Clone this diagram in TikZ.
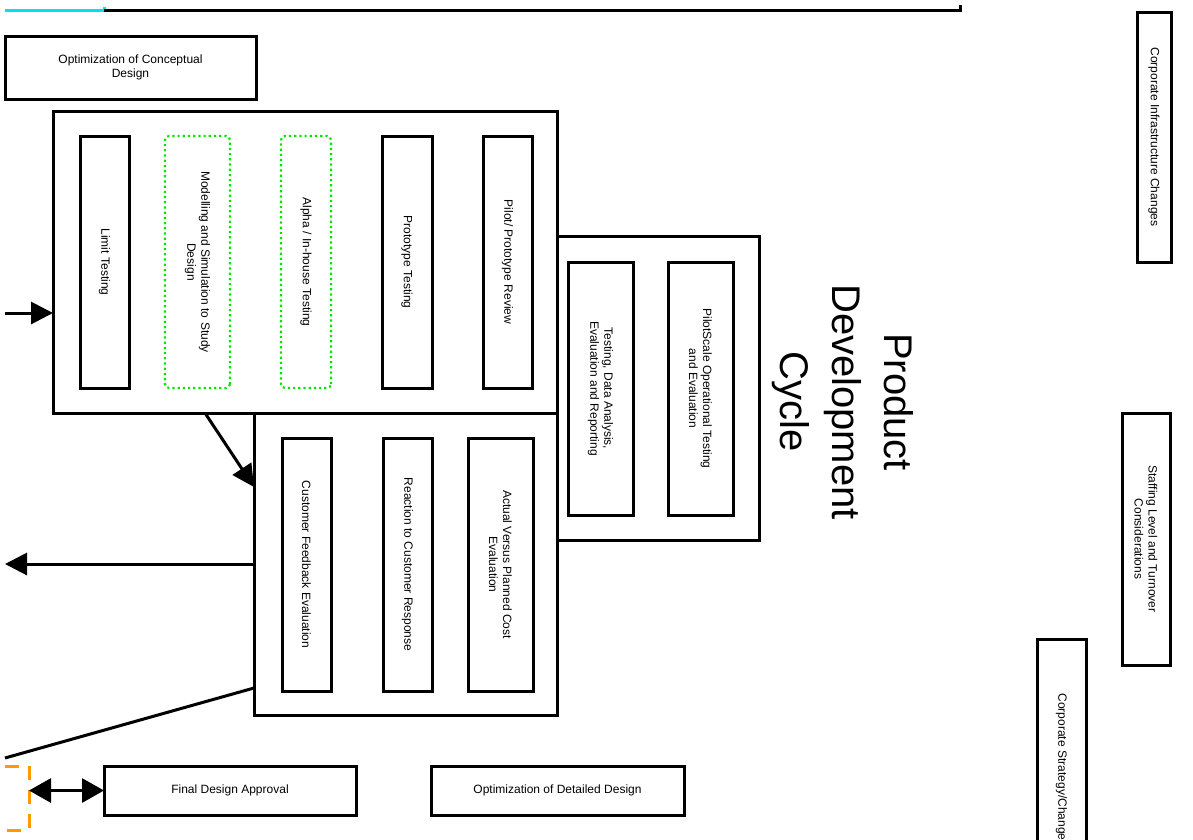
\documentclass[tikz,border=0pt]{standalone}
\usepackage{fontspec}
\setmainfont{Liberation Sans}
\usetikzlibrary{arrows.meta,calc,positioning}
\definecolor{simgreen}{RGB}{0,230,0}
\definecolor{linkcyan}{RGB}{0,225,240}
\definecolor{gateorange}{RGB}{255,153,0}

\begin{document}
\begin{tikzpicture}[x=1pt,y=-1pt,
    box/.style={
      draw,
      line width=3pt,
      inner sep=0pt,
      outer sep=0pt,
      align=center,
      font=\fontsize{12}{14}\selectfont},
    vbox/.style={box, rotate=-90},
    simbox/.style={
      vbox,
      draw=simgreen,
      line width=2.2pt,
      dash pattern=on 2.2pt off 3pt,
      rounded corners=4pt},
    frame/.style={draw, line width=3pt, inner sep=0pt, outer sep=0pt},
    flow/.style={line width=3pt, -{Triangle[length=22pt,width=22pt]}}
  ]
    \useasboundingbox (0,0) rectangle (1193,839);

    % rule along the top
    \coordinate (topA) at (5,10);
    \coordinate (topB) at (104,10);
    \coordinate (topC) at (960,10);
    \draw[linkcyan, line width=3pt] (topA) -- (topB) -- ++(0,-3);
    \draw[line width=3pt] (topB) -- (topC) -- ++(0,-5);

    \node[box, minimum width=251pt, minimum height=63pt] (concept) at (130.5,67.5) {Optimization of Conceptual\\Design};

    % testing stage
    \node[frame, minimum width=504pt, minimum height=302pt] (testbox) at (305,262) {};
    \node[vbox, minimum width=252pt, minimum height=49pt] (limit) at (104.5,262) {Limit Testing};
    \node[simbox, minimum width=252pt, minimum height=65pt] (model) at (197.5,262) {Modelling and Simulation to Study\\Design};
    \node[simbox, minimum width=252pt, minimum height=50pt] (alpha) at (306,262) {Alpha / In-house Testing};
    \node[vbox, minimum width=252pt, minimum height=50pt] (proto) at (407,262) {Prototype Testing};
    \node[vbox, minimum width=252pt, minimum height=49pt] (pilot) at (507.5,262) {Pilot/ Prototype Review};

    % pilot scale stage
    \node[frame, minimum width=202pt, minimum height=304pt] (scalebox) at (658,388) {};
    \node[vbox, minimum width=253pt, minimum height=65pt] (analysis) at (600.5,388.5) {Testing, Data Analysis,\\Evaluation and Reporting};
    \node[vbox, minimum width=253pt, minimum height=65pt] (pilotscale) at (700.5,388.5) {PilotScale Operational Testing\\and Evaluation};

    \node[rotate=-90, align=center, font=\fontsize{40}{52}\selectfont] (cycle) at (843,402) {Product\\Development\\Cycle};

    % review stage
    \node[frame, minimum width=303pt, minimum height=302pt] (reviewbox) at (405.5,564) {};
    \node[vbox, minimum width=253pt, minimum height=49pt] (feedback) at (306.5,564.5) {Customer Feedback Evaluation};
    \node[vbox, minimum width=253pt, minimum height=49pt] (reaction) at (407.5,564.5) {Reaction to Customer Response};
    \node[vbox, minimum width=253pt, minimum height=65pt] (cost) at (500.5,564.5) {Actual Versus Planned Cost\\Evaluation};

    % corporate side
    \node[vbox, minimum width=250pt, minimum height=34pt] (infra) at (1154,137) {Corporate Infrastructure Changes};
    \node[vbox, minimum width=252pt, minimum height=48pt] (staffing) at (1146,539) {Staffing Level and Turnover\\Considerations};
    \node[vbox, minimum width=262pt, minimum height=49pt] (strategy) at (1061.5,770) {Corporate Strategy/Changes};

    \node[box, minimum width=252pt, minimum height=49pt] (approval) at (230,790.5) {Final Design Approval};
    \node[box, minimum width=253pt, minimum height=49pt] (detailed) at (557.5,790.5) {Optimization of Detailed Design};

    % connectors
    \coordinate (feedin) at (5,313);
    \coordinate (feedout) at (5,564);
    \coordinate (gatelink) at (5,758);
    \draw[flow] (feedin) -- (feedin -| testbox.west);
    \draw[flow] ([xshift=152pt]testbox.south west) -- ([yshift=-74pt]reviewbox.north west);
    \draw[flow] (reviewbox.west) -- (feedout);
    \draw[line width=3pt] ([yshift=-275pt]reviewbox.north west) -- (gatelink);

    % approval gate
    \coordinate (gateT) at (5,766);
    \coordinate (gateB) at (5,830);
    \coordinate (gate) at (29,790.5);
    \draw[gateorange, line width=3pt, dash pattern=on 14pt off 10pt] (gateT) -- ++(24,0) -- ++(0,64) -- (gateB);
    \draw[line width=3pt, {Triangle[length=22pt,width=24pt]}-{Triangle[length=22pt,width=24pt]}] (gate) -- (approval.west);
\end{tikzpicture}
\end{document}
